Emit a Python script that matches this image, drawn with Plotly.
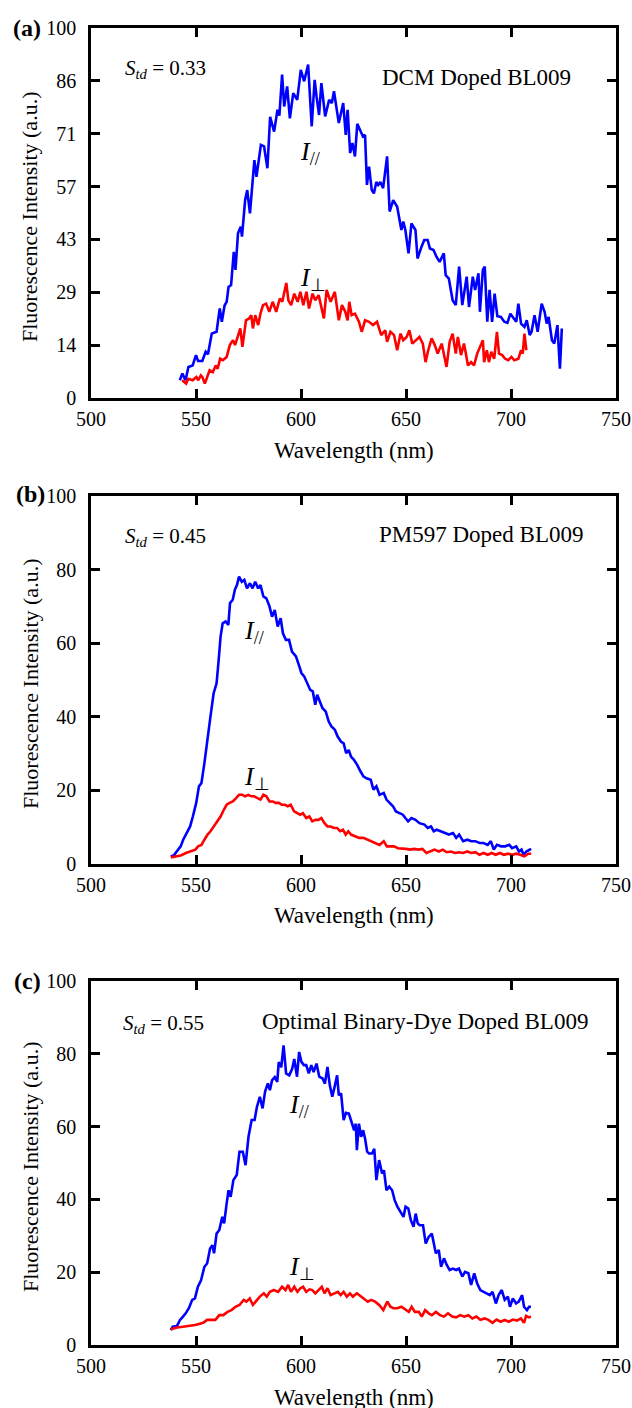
import plotly.graph_objects as go

# ---------------- data ----------------
A_par_x = [542.3,543.5,545,546.4,548.4,550,551,553,554.6,555.7,557.5,559.8,561.3,562.3,563.6,564.6,565.5,566.7,568,568.8,570,571.3,571.9,573.4,574.4,575.7,577.8,578.8,580.9,582.4,584,585.3,587.2,588.8,589.7,591,592,593.4,594.7,596.3,598.2,599.9,601.5,603.4,605.1,606.5,607.4,608.6,609.7,611.5,613.4,614.7,615.7,618,620.1,621.3,622.2,623.4,624.5,625.7,626.8,628.6,629.5,630.5,631.4,632.4,633.7,634.7,635.9,636.8,637.8,639.1,641,642.2,643.9,645.8,647.8,648.7,649.7,651.2,652.6,654.5,655.5,657.4,658.7,660.3,661.4,663.1,664.5,666,668,668.9,670.4,672.2,673.7,675.3,676.8,678.9,680,681.8,682.9,684.5,685.2,686.6,687.5,688.7,689.8,691,692.2,693.5,695.2,696.8,698.3,699.7,701,702.5,703.5,704.8,706.4,707.5,708.9,709.8,711.2,712.7,714.6,716,717,717.9,719.5,720.6,722.1,723.3,724.2]
A_par_y = [4.8,6.6,4.8,8.4,8.8,11.6,10,10,12.5,11.8,17.4,17.9,24.2,20.6,25,26,30,30.5,39.5,34.6,44.5,46.3,43.6,53.5,56.2,49.9,64.3,59.8,68.4,68,62.1,76,72,77.9,76.3,87.4,78.8,84.2,75.6,82.4,80.6,88.7,85.6,90.1,73.4,86,81.5,76.5,85.1,76.1,80.6,79.7,82.9,74.3,79.7,71.1,77.9,66.2,68.9,65.3,74.1,71.6,70.7,71.1,57.6,62.5,56.2,55.3,58.4,57.6,58.4,56.7,65.3,50.4,53.5,51.7,45.4,47.7,45.4,39.1,47.2,45.4,37.7,40.9,42.7,42.7,40.4,40,38.2,36.8,39.1,33.2,32.3,26.4,25.1,35.5,25.1,32.8,24.6,32.8,29.2,33.7,23.3,34.6,35.5,20.6,29.2,20.6,28.2,22.1,21.9,20.6,20.3,22.8,21.9,20.6,25.5,20.1,19.2,21,17,17.9,22.4,17.9,25.5,23.3,20.1,21.9,15.6,14.7,19.7,7.9,18.8]
A_perp_x = [543.4,545.3,546.3,548.4,550.2,551.1,552.3,553,554.2,555.5,556.5,558,559.4,560.3,561.5,562.8,564.6,566.1,567.6,568.6,570,571.1,572.1,573.8,575.3,576.3,577.1,578.2,579.6,580.7,581.9,583.4,584.9,586.5,588.2,589.9,591.1,593,594,595.3,596.8,598.4,599.7,601.1,602.6,603.8,605.5,606.8,608.4,609.5,610.9,612.2,614.1,616.1,618,619.5,621.1,622.2,623,624.1,625.7,627.6,628.9,630.5,632.4,634.3,636.2,638.2,640.1,641,642.6,644.3,645.8,647.4,648.7,650.3,651.6,653,654.5,656.4,658,659.3,660.6,662.2,663.7,665.1,667,668,669.3,670.8,672.2,673.7,674.7,676.2,677.6,678.5,679.5,681,682.4,683.9,685.2,686.6,687.2,688.5,689.5,690.6,692,693.3,694.3,695.8,697.2,698.7,700.2,701.6,703.5,704.8,705.6,706.4,707.3]
A_perp_y = [4.8,3.9,5.2,4.8,5.7,4.8,6.1,5.7,3.9,5.7,7.5,7,8.8,7.9,10.6,10.2,11.1,14.3,15.6,14.3,17,18.8,13.8,21,21.5,22.4,18.8,22.4,19.7,22.8,25.1,25.5,23.3,26,23.3,26.9,26,31.1,26.4,25.1,28.2,26,28.7,25.1,28.7,24.2,28.2,26.4,27.8,25.1,21.5,29.2,26,28.7,21,25.1,23.3,21,26,22.4,22.8,20.6,17.9,21,20.6,19.7,20.6,17,18.3,15.2,17.9,17,12.9,17.4,15.6,16.5,18.3,14.7,15.6,16.5,14.7,9.7,12.9,16.1,14.3,12,14.7,12,8.4,15.2,17.4,12,16.5,11.6,14.7,12,8.8,9.7,8.8,12,13.8,15.6,9.7,12.9,9.7,12.5,10.6,17.9,12,11.6,10.6,10.2,11.1,10.2,10.6,12.9,12,17.4,12.9]

B_par_x = [538,539.4,540.8,542.7,543.9,545.4,547.2,548.5,550.1,551.4,552.6,554,555.5,556.9,558.4,559.8,560.8,561.7,562.7,564.1,565.4,566.2,567.5,568.5,569.5,570.5,571.8,573,574.3,575.7,576.9,578.2,579.6,580.7,582.1,583.5,585,586.2,587.5,588.9,590.3,591.4,592.8,594.3,595.7,597.6,599.2,600.2,601.5,602.9,604.4,605.6,606.8,607.7,608.7,610.2,611.8,613.2,614.5,616.1,617.4,619,620.3,621.5,622.7,623.8,625.2,626.7,628.3,629.7,631.2,633.2,634.5,635.9,637.4,639.4,640.7,642.3,643.8,645.2,647.1,648.5,649.7,651,652.6,654.5,656.4,658.8,660.3,661.9,663.2,664.6,666.5,668.5,670.4,672.4,673.9,675.3,677.2,679.2,681.1,683,685,686.9,688.9,690.4,691.8,693.3,695.3,697.2,699.2,700.5,702.5,703.8,705,706,707.3,708.9,709.6]
B_par_y = [2.1,2.3,3.4,4.8,6.6,8.4,10.2,12.9,16.6,21.1,22,27.4,34.7,40.1,46.4,49.1,55.5,61.8,65.4,65.9,65,70.9,71.8,74.5,75.8,78.1,76.7,77.2,74.9,76.3,74.9,76.7,74.9,75.8,72.7,72.2,70,67.2,69,64.5,66.8,62.7,60.9,60.9,57.7,56.4,53.7,51.9,51,49.1,47.3,46.9,43.3,46,44.6,42.4,41.4,38.7,37.4,36.5,34.7,33.3,32.8,30.1,31,29.2,28.3,27,25.2,23.8,23.3,22.9,20.2,21.1,18.8,19.3,17.5,16.6,15.7,14.3,13.8,13.4,12.5,11.6,12.5,12,11.1,10.7,9.8,10.2,8.9,9.3,8.9,8.4,8,8.4,7.1,8,6.2,6.6,6.2,6.2,5.7,5.7,5.2,6.2,3.9,5.2,4.8,4.8,5.2,4.3,4.8,3.4,3.9,2.5,3.4,3.9,4.1]
B_perp_x = [538,540.4,542.7,545.2,547.7,549.7,551,552.6,554,555.5,556.9,558.4,559.8,561.7,563.3,564.6,566,567.5,569.1,570.5,572,573.4,575,576.3,577.6,579.2,580.7,582.1,583.5,585,586.6,587.9,589.5,590.8,592.4,593.7,595.1,596.7,598.2,599.6,600.9,602.5,604,605.4,606.9,608.3,609.7,611.2,612.6,614.1,615.7,617.2,618.6,620,621.3,622.5,623.8,625.8,627.7,629.7,631.6,633.5,635.5,637.4,639.4,640.9,642.3,644.2,646.2,648.1,650,652,653.9,655.9,657.8,659.7,661.7,663.6,665.6,667.5,669.4,671.4,673.3,675.3,677.2,679.2,681.1,683,685,686.9,688.9,690.8,692.7,694.7,696.6,698.6,700.5,702.5,704.4,706.3,708.3,709.6]
B_perp_y = [1.8,2.1,2.3,3,3.4,3.9,4.8,5.2,6.6,8,8.9,10.2,11.6,12.9,14.8,16.1,16.6,17,17.9,18.8,18.8,18.4,18.8,18.4,18.4,17.9,17.5,18.8,18.4,17,17,16.6,16.6,16.1,16.1,15.7,16.1,14.3,13.8,13.4,13.8,12.5,12.9,11.6,12,12,12.5,11.1,10.2,10.2,9.8,9.8,8.9,9.3,8,8.9,8,7.5,7.1,7.1,6.6,6.2,5.7,5.2,6.2,4.8,4.8,4.8,4.3,4.3,4.1,3.9,4.1,3.9,4.1,3,3.4,3.9,3.4,3.9,3.2,3.4,3,3.2,3,3.4,3,3.2,2.5,3,2.5,3,2.5,3,2.5,2.8,2.5,2.8,2.5,2.1,2.8,2.8]

C_par_x = [538,538.9,540.9,542.4,543.8,545.1,546.6,548.2,549.5,550.9,552.4,554,555.3,556.7,557.8,558.6,559.8,561.1,562.5,563.4,564.6,565.5,566.5,567.8,569.4,570.7,572.3,573.6,575,576.5,577.9,579,580.4,581.7,582.9,584.2,585.2,586.2,587.5,588.7,589.4,590.6,591.7,592.9,594.4,595.8,596.8,598.1,599.1,600.2,601.4,602.5,603.7,604.9,606,607.4,608.7,610.3,611.4,612.6,613.7,614.9,616,617.2,618,619.1,620.3,621.4,622.8,624.1,625.3,626.1,626.6,627.6,628.6,629.6,630.5,631.5,632.4,633.8,634.9,635.9,637.2,638.6,639.5,640.7,642,643.4,644.6,645.9,647.8,648.8,649.8,651.1,652.3,653.6,654.6,655.6,656.5,658.1,659.4,660.8,662.3,663.3,664.2,665.6,666.7,668.1,669.4,670.8,672.3,673.9,675.2,676.8,678.1,679.7,681,682.5,683.9,685.4,686.8,688.3,689.9,691.2,692.8,694.1,695.6,697,698.5,699.5,700.9,702.4,703.7,705.3,706.2,707.6,708.6,709.5]
C_par_y = [4.1,5,5.2,6.9,7.8,8.7,10.1,12.4,12.8,16,17.8,21.5,22.4,26.5,27.4,25.2,30.6,31.6,35.2,33.4,38.9,42.5,40.7,45.3,46.7,53.1,53.1,49.4,57.2,61.8,61.8,65.4,68.2,65,69.6,71.9,70,72.7,73.6,72.3,77.7,76.3,82.3,74.6,74.1,75.9,78.6,73.7,80.5,77.8,76.9,76.9,74.6,76.9,75,77.3,73.7,73.2,71.8,76.4,71.4,68.2,70.9,74.1,68.6,69.1,61.8,63.8,63.6,60.8,59,60.8,53.5,60.8,57.2,59,56.7,53.1,52.6,52.6,53.9,45.3,50.8,47.1,48,42.5,43.5,42.5,39.8,38,36.1,35.2,38,37.5,34.3,32.5,36.1,33.4,32.9,32.9,27.9,29.7,30.6,27.4,25.2,26.1,21.5,23.8,22,20.6,21,20.6,21,18.8,20.1,19.7,16.5,19.7,16.9,15.1,14.6,14.2,13.7,14.6,11.4,13.7,15.1,12.4,13.3,10.5,12.8,11.4,11.9,13.7,10.5,9.6,10.5,10.5]
C_perp_x = [538,540.9,543.8,546.6,549.5,551.5,553.4,555.3,557.2,559.2,561.1,563,565,566.9,568.8,570.7,572.7,574,575.6,577.1,578.4,580.4,582.3,583.7,585.2,587.1,589.1,591,592.6,593.9,595.2,596.8,598.3,599.7,601,602.5,604.1,605.4,606.8,608.3,609.9,611.2,612.6,614.1,616,617.6,618.9,620.3,621.8,623.3,624.7,626.6,628.6,630.5,631.8,633.4,635.3,637.2,639.2,641.1,642.6,644,645.9,647.8,649.8,651.3,652.7,654.2,656.1,657.5,659.1,660.8,662.3,664.2,666.2,668.1,670,672,673.9,675.8,677.7,679.7,681.6,683.5,685.4,687.4,689.3,691.2,693.1,695.1,697,698.9,700.9,702.8,704.7,706.2,707.2,708.5,709.5]
C_perp_y = [4.3,4.8,5,5.2,5.5,5.8,6.1,6.9,7,6.9,8.2,8.2,9.1,9.6,10.5,11,12.4,11.9,12.8,11,11.9,13.3,14.2,13.3,14.6,15.1,14.6,16,15.1,16.5,14.6,16,14.6,15.6,16,14.6,15.3,15.1,14.2,15.1,16,14.2,15.6,13.7,14.2,14.6,13.7,14.6,13.3,14.2,13.3,14.2,13.3,12.4,11.9,12.4,11.9,11,9.6,11.9,10.5,10.1,10.1,10.5,9.6,9.1,10.5,9.1,9.1,7.8,9.6,8.7,8.2,9.1,8.2,7.8,8.7,7.8,7.6,8.2,7.8,8.2,7.3,7.8,6.9,7.3,6.9,6.1,7,6.4,6.9,6.4,7,6.7,7.3,6.1,8,7.6,7.8]

x_ticks = [500, 550, 600, 650, 700, 750]
a_ytick_vals = [0, 100/7, 200/7, 300/7, 400/7, 500/7, 600/7, 100]
a_ytick_text = ["0", "14", "29", "43", "57", "71", "86", "100"]
bc_ytick_vals = [0, 20, 40, 60, 80, 100]
bc_ytick_text = ["0", "20", "40", "60", "80", "100"]

panel_letters = ["(a)", "(b)", "(c)"]
sample_names = ["DCM Doped BL009", "PM597 Doped BL009", "Optimal Binary-Dye Doped BL009"]
std_values = ["0.33", "0.45", "0.55"]

# ---------------- layout helpers ----------------
W, H = 632, 1408
FONT = "Liberation Serif"
BLUE = "#0000FF"
RED = "#FF0000"


def px(x):
    return x / W


def py(y):
    return 1 - y / H


# plot-area pixel boxes (left, right, top, bottom)
boxes = [(91, 616, 28, 398), (91, 616, 496, 864), (91, 616, 981, 1345)]

fig = go.Figure()

series = [
    (A_par_x, A_par_y, A_perp_x, A_perp_y),
    (B_par_x, B_par_y, B_perp_x, B_perp_y),
    (C_par_x, C_par_y, C_perp_x, C_perp_y),
]

for i, (xp, yp, xq, yq) in enumerate(series):
    sfx = "" if i == 0 else str(i + 1)
    fig.add_trace(go.Scatter(x=xp, y=yp, mode="lines", line=dict(color=BLUE, width=2.6),
                             xaxis="x" + sfx, yaxis="y" + sfx, showlegend=False, name="I//"))
    fig.add_trace(go.Scatter(x=xq, y=yq, mode="lines", line=dict(color=RED, width=2.6),
                             xaxis="x" + sfx, yaxis="y" + sfx, showlegend=False, name="I⊥"))

axis_common = dict(
    showline=True, linecolor="black", linewidth=2.6, mirror="ticks",
    ticks="inside", ticklen=9, tickwidth=2.6, tickcolor="black",
    showgrid=False, zeroline=False, automargin=False,
    tickfont=dict(family=FONT, size=20, color="black"),
)

layout = dict(
    width=W, height=H, autosize=False,
    margin=dict(l=0, r=0, t=0, b=0, pad=0, autoexpand=False),
    paper_bgcolor="white", plot_bgcolor="white",
    font=dict(family=FONT, color="black", size=20),
)

for i, (l, r, t, b) in enumerate(boxes):
    sfx = "" if i == 0 else str(i + 1)
    layout["xaxis" + sfx] = dict(
        axis_common, domain=[px(l), px(r)], range=[500, 750],
        tickvals=x_ticks, ticktext=[str(v) for v in x_ticks],
        anchor="y" + sfx, ticklabelstandoff=1,
    )
    yv, yt = (a_ytick_vals, a_ytick_text) if i == 0 else (bc_ytick_vals, bc_ytick_text)
    layout["yaxis" + sfx] = dict(
        axis_common, domain=[py(b), py(t)], range=[0, 100],
        tickvals=yv, ticktext=yt, anchor="x" + sfx, ticklabelstandoff=8,
    )

fig.update_layout(**layout)

ann = []
# text positions in pixels
letter_pos = [(11, 28), (14, 494), (12, 981)]
std_pos = [(123, 69), (123, 537), (121, 1024)]
name_pos = [(573, 77), (585, 534), (590, 1021)]
ipar_pos = [(298, 153), (242, 632), (287, 1106)]
iperp_pos = [(298, 279), (242, 778), (287, 1268)]

for i, (l, r, t, b) in enumerate(boxes):
    ann.append(dict(text="<b>%s</b>" % panel_letters[i], x=px(letter_pos[i][0]), y=py(letter_pos[i][1]),
                    xanchor="left", yanchor="middle", font=dict(size=24)))
    ann.append(dict(text="<i>S</i><sub><i>td</i></sub> = %s" % std_values[i],
                    x=px(std_pos[i][0]), y=py(std_pos[i][1]),
                    xanchor="left", yanchor="middle", font=dict(size=21)))
    ann.append(dict(text=sample_names[i], x=px(name_pos[i][0]), y=py(name_pos[i][1]),
                    xanchor="right", yanchor="middle", font=dict(size=23)))
    ann.append(dict(text="<i>I</i><sub>//</sub>", x=px(ipar_pos[i][0]), y=py(ipar_pos[i][1]),
                    xanchor="left", yanchor="middle", font=dict(size=26)))
    ann.append(dict(text="<i>I</i><sub>⊥</sub>", x=px(iperp_pos[i][0]), y=py(iperp_pos[i][1]),
                    xanchor="left", yanchor="middle", font=dict(size=26)))
    # axis titles
    ann.append(dict(text="Wavelength (nm)", x=px((l + r) / 2), y=py(b + 52),
                    xanchor="center", yanchor="middle", font=dict(size=23)))
    ann.append(dict(text="Fluorescence Intensity (a.u.)", x=px(30), y=py((t + b) / 2 + 4),
                    xanchor="center", yanchor="middle", textangle=-90, font=dict(size=22)))

for a in ann:
    a.update(xref="paper", yref="paper", showarrow=False)
    a["font"] = dict(a["font"], family=FONT, color="black")

fig.update_layout(annotations=ann)
fig.write_html("out.html", post_script="document.body.style.margin='0';")
